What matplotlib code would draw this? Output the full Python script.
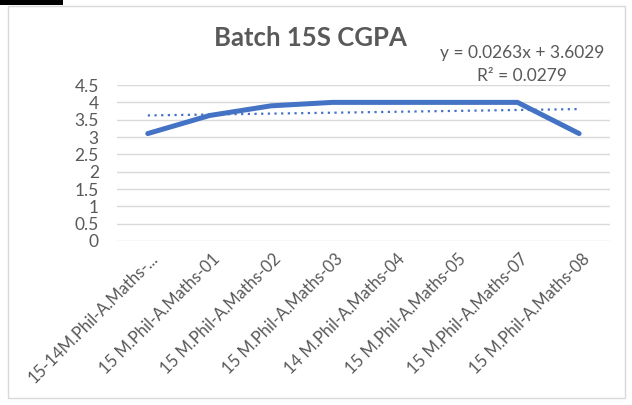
import numpy as np
import matplotlib.pyplot as plt
import matplotlib.transforms as mtrans
from matplotlib.patches import Rectangle

# data
students = ["15-14M.Phil-A.Maths-...", "15 M.Phil-A.Maths-01", "15 M.Phil-A.Maths-02",
            "15 M.Phil-A.Maths-03", "14 M.Phil-A.Maths-04", "15 M.Phil-A.Maths-05",
            "15 M.Phil-A.Maths-07", "15 M.Phil-A.Maths-08"]
cgpa = [3.1, 3.62, 3.9, 4.0, 4.0, 4.0, 4.0, 3.1]
y_ticks = [0, 0.5, 1, 1.5, 2, 2.5, 3, 3.5, 4, 4.5]
equation = "y = 0.0263x + 3.6029"
r2_text = "R² = 0.0279"

plt.rcParams['font.family'] = ['Lato', 'DejaVu Sans']
gray = "#595959"
blue = "#4472C4"

fig = plt.figure(figsize=(6.32, 4.05), dpi=100)
# chart border and the black mark at the top left of the screenshot
fig.patches.append(Rectangle((8/632, 7/405), 617/632, 392/405, transform=fig.transFigure,
                             fill=False, edgecolor="#d9d9d9", linewidth=1))
fig.patches.append(Rectangle((0, 1 - 5/405), 63/632, 5/405, transform=fig.transFigure,
                             facecolor="black", edgecolor="none"))

ax = fig.add_axes([0.1851, 0.405, 0.780, 0.385])
x = np.arange(len(students))
ax.plot(x, cgpa, color=blue, linewidth=3.6, solid_capstyle="round", zorder=3)

# linear trendline (Excel numbers x from 1)
m, b = np.polyfit(x + 1, cgpa, 1)
ax.plot(x, m * (x + 1) + b, color=blue, linewidth=1.6, linestyle=(0, (1, 2)), zorder=2)

ax.set_xlim(-0.5, len(students) - 0.5)
ax.set_ylim(0, 4.5)
ax.set_yticks(y_ticks)
ax.set_yticklabels([f"{t:g}" for t in y_ticks], color=gray, fontsize=12.5)
ax.set_xticks(x)
ax.set_xticklabels(students, rotation=45, ha="right", rotation_mode="anchor",
                   color=gray, fontsize=12)
ax.tick_params(axis="y", length=0, pad=13)
ax.tick_params(axis="x", length=0, pad=7)
shift = mtrans.ScaledTranslation(1.5/72, 0, fig.dpi_scale_trans)
for lab in ax.get_xticklabels():
    lab.set_transform(lab.get_transform() + shift)
ax.grid(axis="y", color="#d9d9d9", linewidth=1)
ax.set_axisbelow(True)
for s in ax.spines.values():
    s.set_visible(False)

fig.text(310/632, 1 - 38/405, "Batch 15S CGPA", ha="center", va="center", fontsize=18.5,
         fontweight="bold", color=gray)
fig.text(522/632, 1 - 53/405, equation, ha="center", va="center", fontsize=12.5, color=gray)
fig.text(522/632, 1 - 76/405, r2_text, ha="center", va="center", fontsize=12.5, color=gray)

fig.savefig("out.png", dpi=100)
